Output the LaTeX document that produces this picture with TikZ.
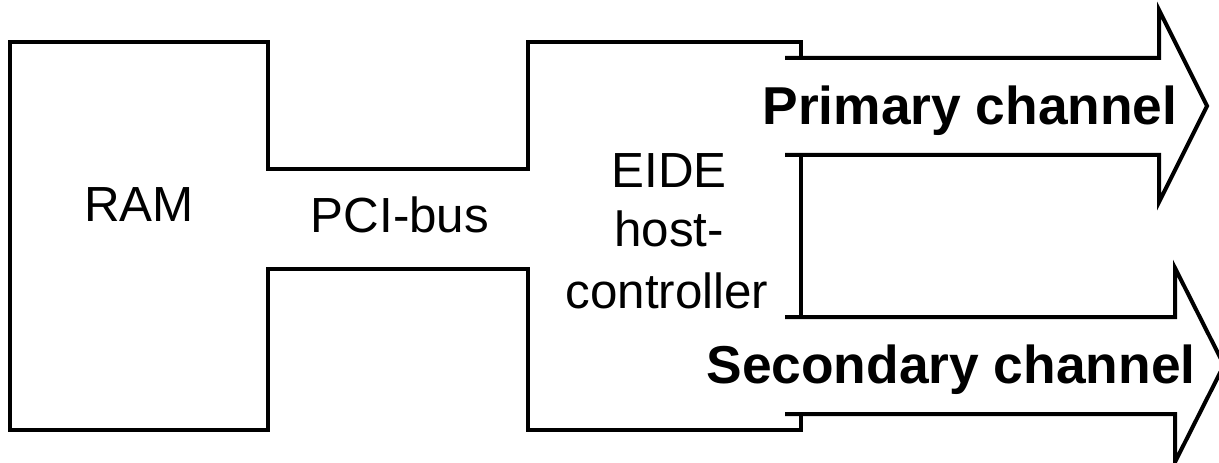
\documentclass[tikz,border=0pt]{standalone}
\usepackage{fontspec}
\setmainfont{Liberation Sans}
\begin{document}
\begin{tikzpicture}[x=0.75pt,y=-0.75pt,
  outline/.style={line width=3pt,line join=miter,line cap=rect},
  lbl/.style={inner sep=0pt,anchor=base,font=\fontsize{37}{45}\selectfont},
  blbl/.style={inner sep=0pt,anchor=base,font=\fontsize{40}{48}\selectfont\bfseries}]
\useasboundingbox (0,0) rectangle (1219,463);
% outline of RAM, bus and controller
\draw[outline] (801,58) -- (801,42) -- (528,42) -- (528,169) -- (268,169) -- (268,42)
  -- (10,42) -- (10,430) -- (268,430) -- (268,269) -- (528,269) -- (528,430)
  -- (801,430) -- (801,414);
\draw[outline] (801,155) -- (801,317);
% primary channel arrow
\draw[outline,line cap=butt] (785,58) -- (1159,58) -- (1159,10) -- (1207,106) -- (1159,202) -- (1159,155) -- (785,155);
% secondary channel arrow
\draw[outline,line cap=butt] (785,317) -- (1175,317) -- (1175,268) -- (1224,365) -- (1175,462) -- (1175,414) -- (785,414);
% labels
\node[lbl] (ram) at (139,222) {RAM};
\node[lbl] (pci) at (400,233) {PCI-bus};
\node[lbl] (eide) at (669,188) {EIDE};
\node[lbl] (host) at (669,247) {host-};
\node[lbl] (ctrl) at (667,308) {controller};
\node[blbl] (prim) at (970,125) {Primary channel};
\node[blbl] (sec) at (951,383) {Secondary channel};
\end{tikzpicture}
\end{document}
